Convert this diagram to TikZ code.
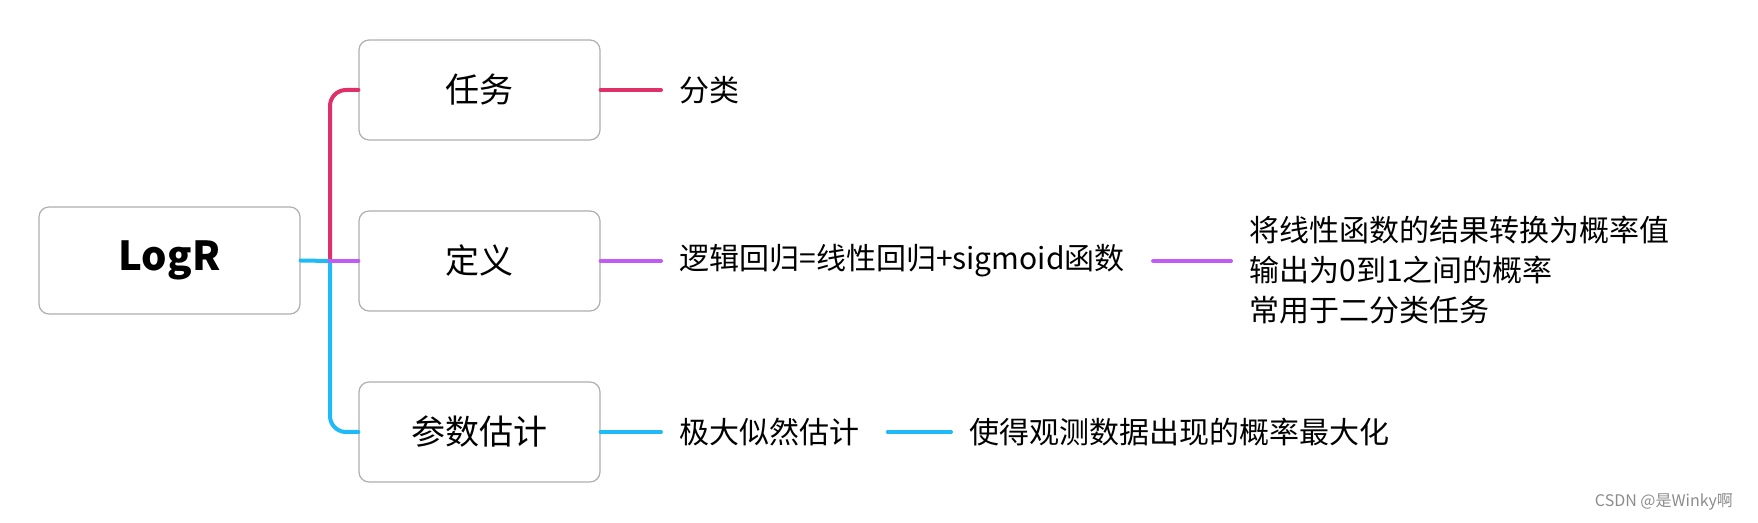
\documentclass[tikz,border=0pt]{standalone}
\usepackage{fontspec}
\setmainfont{Noto Sans CJK SC}
\usetikzlibrary{positioning,calc}

\definecolor{branchred}{RGB}{224,48,106}
\definecolor{branchpurple}{RGB}{192,91,245}
\definecolor{branchcyan}{RGB}{32,186,248}
\definecolor{boxgray}{RGB}{175,175,175}

\begin{document}
\begin{tikzpicture}[
    x=0.5pt, y=-0.5pt,
    topic/.style={draw=boxgray, line width=0.6pt, rounded corners=5pt, fill=white, minimum width=120.5pt, minimum height=50pt, font=\fontsize{17}{20}\selectfont},
    root/.style={topic, minimum width=130.5pt, minimum height=53.5pt, font=\fontsize{20}{24}\selectfont\bfseries},
    leaf/.style={anchor=west, inner xsep=9pt, inner ysep=2pt, font=\fontsize{15}{20}\selectfont, align=left},
    link/.style={line width=2pt, line cap=round},
    watermark/.style={font=\fontsize{8}{10}\selectfont, text=black!45, anchor=east},
]
\useasboundingbox (0,0) rectangle (1758,523);

% Root
\node[root] (logr) at (169.5, 260.5) {LogR};

% Topics
\node[topic] (task) at (479.5, 90) {任务};
\node[topic] (defn) at (479.5, 261) {定义};
\node[topic] (est) at (479.5, 432) {参数估计};
\coordinate (hub) at (330, 261);

\draw[link, branchred, rounded corners=8pt] (hub) |- (task.west);
\draw[link, branchcyan, rounded corners=8pt] (hub) |- (est.west);
\draw[link, branchcyan] (logr.east) -- (hub);
\draw[link, branchpurple] (hub) -- (defn.west);

% Leaves
\node[leaf] (cls) at (661, 90) {分类};
\node[leaf] (sig) at (661, 261) {逻辑回归=线性回归+sigmoid函数};
\node[leaf] (prob) at (1231, 270) {将线性函数的结果转换为概率值\\输出为0到1之间的概率\\常用于二分类任务};
\node[leaf] (mle) at (661, 432) {极大似然估计};
\node[leaf] (max) at (951, 432) {使得观测数据出现的概率最大化};

\draw[link, branchred] (task.east) -- (cls.west);
\draw[link, branchpurple] (defn.east) -- (sig.west);
\draw[link, branchpurple, shorten <=5pt] (sig.east) -- (sig.east -| prob.west);
\draw[link, branchcyan] (est.east) -- (mle.west);
\draw[link, branchcyan, shorten <=5pt] (mle.east) -- (max.west);

\node[watermark] (csdn) at (1740, 502) {CSDN @是Winky啊};

\end{tikzpicture}
\end{document}
